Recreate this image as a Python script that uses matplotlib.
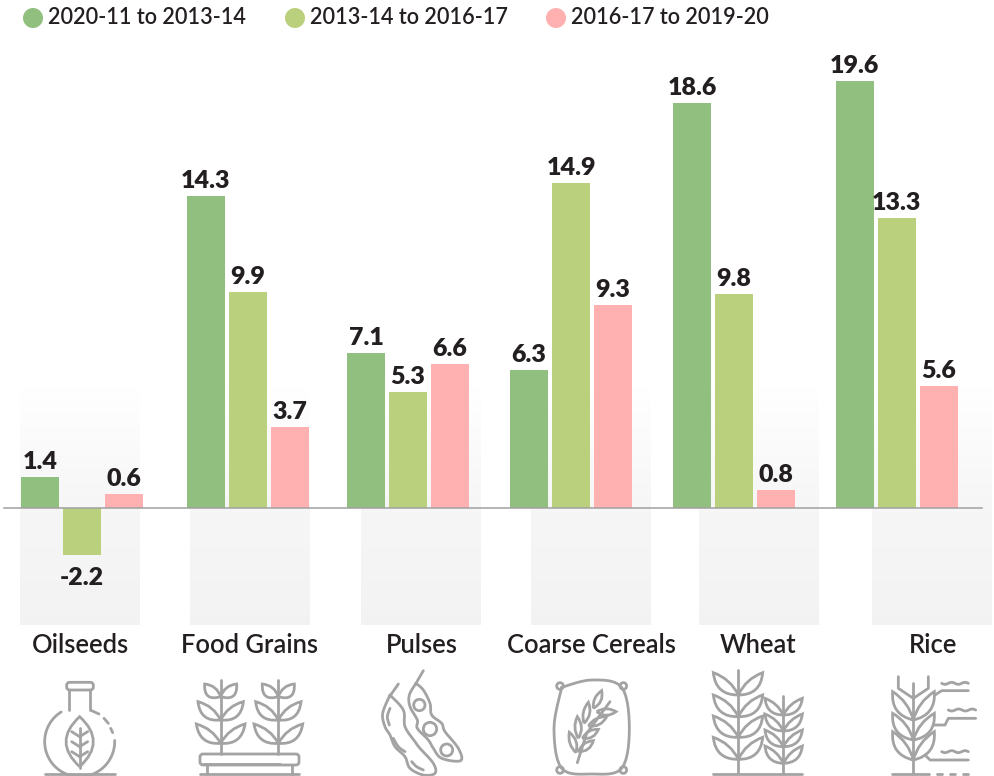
import numpy as np
import matplotlib
matplotlib.use('Agg')
import matplotlib.pyplot as plt
from matplotlib.path import Path
from matplotlib.patches import PathPatch, Circle, FancyBboxPatch

categories = ['Oilseeds', 'Food Grains', 'Pulses', 'Coarse Cereals', 'Wheat', 'Rice']
series_names = ['2020-11 to 2013-14', '2013-14 to 2016-17', '2016-17 to 2019-20']
growth_1 = [1.4, 14.3, 7.1, 6.3, 18.6, 19.6]
growth_2 = [-2.2, 9.9, 5.3, 14.9, 9.8, 13.3]
growth_3 = [0.6, 3.7, 6.6, 9.3, 0.8, 5.6]

# layout, all in reference pixels
group_x = [82, 248, 408, 571, 734, 896.5]
label_x = [80, 249.5, 422, 591.5, 758, 933]
panel_x = [20, 190, 361, 531, 699, 872]
legend_x = [33, 295, 556]
colors = ['#90bf7f', '#bbd07c', '#ffb0b0']
ink = '#231f20'
grey = '#a3a3a3'
BASE_Y = 507.5
PX_PER_UNIT = 21.75

plt.rcParams['font.family'] = ['Lato', 'DejaVu Sans']
fig = plt.figure(figsize=(9.94, 7.76), dpi=100)

# overlay in pixel coordinates for panels, legend, labels, icons
bg = fig.add_axes([0, 0, 1, 1], zorder=1)
bg.set_xlim(0, 994)
bg.set_ylim(776, 0)
bg.axis('off')

ax = fig.add_axes([0, 0, 1, 1], zorder=2)
ax.patch.set_alpha(0)
ax.set_xlim(0, 994)
ax.set_ylim((BASE_Y - 776) / PX_PER_UNIT, BASE_Y / PX_PER_UNIT)
ax.axis('off')

# grey panels that fade out upwards
ys = np.linspace(385, 625, 120)
shade = np.interp(ys, [385, 510, 625], [1.0, 0.965, 0.952])
grad = np.repeat(shade[:, None], 3, axis=1)[:, None, :]
for px in panel_x:
    bg.imshow(grad, extent=(px, px + 120, 625, 385), aspect='auto', zorder=1)
bg.set_xlim(0, 994)
bg.set_ylim(776, 0)

# bars
for i, vals in enumerate([growth_1, growth_2, growth_3]):
    xs = [g + (i - 1) * 42 for g in group_x]
    ax.bar(xs, vals, width=38, color=colors[i], zorder=3)
    for x, v in zip(xs, vals):
        off = 5.8 if v >= 0 else -21.6
        ax.annotate(f'{v}', (x, v), xytext=(0, off), textcoords='offset points',
                    ha='center', va='baseline', fontsize=18, fontweight='heavy',
                    color=ink, zorder=4)
ax.plot([4, 982], [0, 0], color='#a0a0a0', lw=1.1, zorder=5)

# category labels and legend
for x, name in zip(label_x, categories):
    bg.text(x, 645.5, name, ha='center', va='center', fontsize=18.4,
            fontweight='semibold', color=ink)
for x, c, name in zip(legend_x, colors, series_names):
    bg.add_patch(Circle((x, 18), 10, color=c, lw=0))
    bg.text(x + 15, 18, name, ha='left', va='center', fontsize=15.6,
            fontweight='semibold', color=ink)


def line(pts, ox, oy):
    pts = np.array(pts, float)
    bg.plot(ox + pts[:, 0] / 3, oy + pts[:, 1] / 3, color=grey, lw=2,
            solid_capstyle='round', solid_joinstyle='round', zorder=3)


def smooth(pts, ox, oy):
    # catmull-rom through the outline points
    p = np.array(pts, float)
    p = np.vstack([p[0], p, p[-1]])
    out = []
    for k in range(1, len(p) - 2):
        for t in np.linspace(0, 1, 8):
            out.append(0.5 * (2 * p[k] + (p[k + 1] - p[k - 1]) * t
                              + (2 * p[k - 1] - 5 * p[k] + 4 * p[k + 1] - p[k + 2]) * t ** 2
                              + (3 * p[k] - p[k - 1] - 3 * p[k + 1] + p[k + 2]) * t ** 3))
    line(out, ox, oy)


def leaf(base, tip, bulge, ox, oy, other=0.45):
    b = np.array(base, float)
    t = np.array(tip, float)
    d = t - b
    n = np.array([-d[1], d[0]]) / np.hypot(*d)
    mid = (b + t) / 2
    verts = [b, mid + n * bulge, t, mid - n * bulge * other, b]
    verts = [(ox + v[0] / 3, oy + v[1] / 3) for v in verts]
    codes = [Path.MOVETO, Path.CURVE3, Path.CURVE3, Path.CURVE3, Path.CURVE3]
    bg.add_patch(PathPatch(Path(verts, codes), fc='none', ec=grey, lw=2, zorder=3))


def circle(c, r, ox, oy):
    bg.add_patch(Circle((ox + c[0] / 3, oy + c[1] / 3), r / 3, fc='none', ec=grey, lw=2, zorder=3))


def box(x0, y0, x1, y1, ox, oy):
    bg.add_patch(FancyBboxPatch((ox + x0 / 3, oy + y0 / 3), (x1 - x0) / 3, (y1 - y0) / 3,
                                boxstyle='round,pad=0,rounding_size=3', fc='none', ec=grey,
                                lw=2, zorder=3))


# oilseeds flask
ox, oy = 0, 380
box(200, 907, 280, 930, ox, oy)
line([(208, 930), (208, 990)], ox, oy)
line([(270, 930), (270, 990)], ox, oy)
ang = np.radians(np.linspace(-2, 238, 60))
line(np.c_[239 + 105 * np.cos(ang), 1085 + 105 * np.sin(ang)], ox, oy)
line([(275, 992), (297, 1002)], ox, oy)
line([(312, 1015), (325, 1030)], ox, oy)
line([(332, 1045), (338, 1058)], ox, oy)
line([(135, 1183), (345, 1183)], ox, oy)
leaf((239, 1160), (239, 1010), 82, ox, oy, other=1)
line([(239, 1045), (239, 1165)], ox, oy)
for yy in (1070, 1100, 1130):
    line([(215, yy - 15), (239, yy)], ox, oy)
    line([(263, yy - 15), (239, yy)], ox, oy)

# food grains
for sx in (662, 835):
    line([(sx, 900), (sx, 1122)], ox, oy)
    for by, ty, dx in ((950, 912, 48), (1020, 965, 68), (1090, 1032, 73)):
        leaf((sx, by), (sx - dx, ty), -44, ox, oy)
        leaf((sx, by), (sx + dx, ty), 44, ox, oy)
box(600, 1122, 897, 1155, ox, oy)
line([(610, 1152), (840, 1152)], ox, oy)
line([(620, 1155), (620, 1183)], ox, oy)
line([(875, 1155), (875, 1183)], ox, oy)
line([(600, 1183), (897, 1183)], ox, oy)

# pulses
ox, oy = 330, 600
line([(205, 252), (180, 288)], ox, oy)
smooth([(180, 285), (158, 340), (165, 380), (180, 405), (195, 440), (225, 470), (240, 505),
        (280, 525), (315, 520), (310, 490), (270, 445), (255, 425), (225, 380), (220, 330),
        (180, 285)], ox, oy)
smooth([(180, 325), (172, 350), (178, 375)], ox, oy)
smooth([(190, 415), (205, 440), (225, 455)], ox, oy)
smooth([(245, 485), (260, 500), (280, 510)], ox, oy)
line([(280, 212), (258, 250)], ox, oy)
smooth([(258, 250), (238, 285), (240, 320), (262, 360), (262, 385), (295, 420), (310, 445),
        (335, 475), (392, 482), (385, 445), (345, 395), (335, 370), (305, 345), (300, 310),
        (280, 270), (258, 250)], ox, oy)
circle((268, 315), 17, ox, oy)
circle((300, 387), 20, ox, oy)
circle((350, 450), 18, ox, oy)

# coarse cereals sack
smooth([(695, 262), (785, 240), (875, 262), (898, 385), (875, 505), (785, 522), (695, 505),
        (672, 385), (695, 262)], ox, oy)
for c in ((690, 258), (880, 258), (690, 510), (880, 510)):
    circle(c, 10, ox, oy)
line([(742, 488), (770, 400), (840, 305)], ox, oy)
for b, t in (((790, 325), (815, 272)), ((762, 370), (775, 307)), ((745, 415), (742, 350)),
             ((738, 458), (718, 397)), ((800, 335), (858, 335)), ((775, 378), (830, 350)),
             ((757, 415), (805, 388)), ((745, 455), (790, 422))):
    leaf(b, t, 22, ox, oy, other=0.8)

# wheat
ox, oy = 670, 600
line([(205, 210), (205, 520)], ox, oy)
line([(340, 288), (340, 520)], ox, oy)
line([(130, 521), (397, 521)], ox, oy)
for by, ty in ((285, 218), (350, 285), (412, 348), (478, 412)):
    leaf((205, by), (130, ty), -46, ox, oy)
    leaf((205, by), (278, ty), 46, ox, oy)
for by, ty in ((345, 295), (393, 342), (440, 390), (490, 438)):
    leaf((340, by), (285, ty), -34, ox, oy)
    leaf((340, by), (397, ty), 34, ox, oy)

# rice
line([(730, 250), (730, 520)], ox, oy)
line([(665, 521), (778, 521)], ox, oy)
for dx in (800, 840, 880):
    line([(dx, 521), (dx + 15, 521)], ox, oy)
line([(685, 230), (685, 265), (730, 295), (775, 265), (775, 230)], ox, oy)
for by, ty in ((360, 275), (420, 340), (480, 395)):
    leaf((730, by), (668, ty), -46, ox, oy)
    leaf((730, by), (793, ty), 46, ox, oy)
line([(795, 285), (815, 272), (895, 272)], ox, oy)
line([(790, 375), (825, 375), (835, 355), (917, 355)], ox, oy)
line([(765, 465), (780, 480), (895, 480)], ox, oy)
for sx, sy, w in ((815, 250, 80), (835, 330, 82), (815, 455, 80)):
    tt = np.linspace(0, 1, 30)
    line(np.c_[sx + w * tt, sy + 3 * np.sin(tt * 4 * np.pi)], ox, oy)

fig.savefig('out.png', dpi=100)
